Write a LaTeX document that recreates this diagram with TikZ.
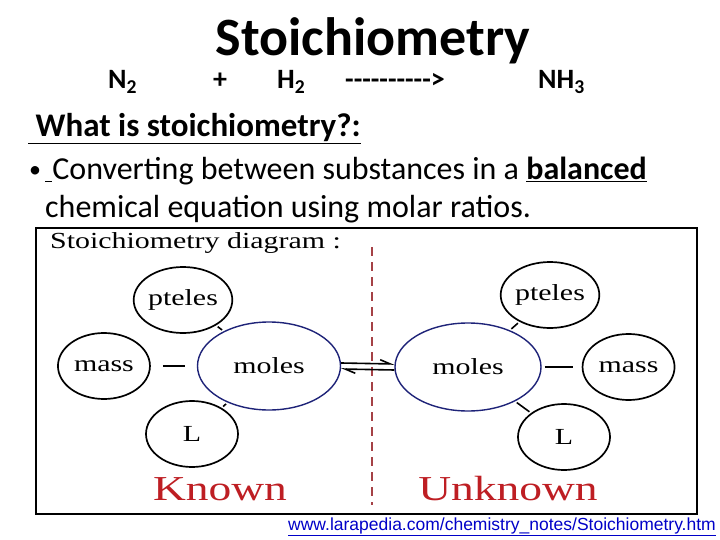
\documentclass[tikz,border=0pt]{standalone}
\usepackage{fontspec}
\setmainfont{Carlito}
\newfontfamily\timesfont{Liberation Serif}
\newfontfamily\arialfont{Liberation Sans}
\usepackage{graphicx}
\usepackage{xcolor}
\usetikzlibrary{shapes,arrows.meta,positioning}
\definecolor{hubblue}{RGB}{30,35,120}
\definecolor{knownred}{RGB}{190,30,35}
\definecolor{splitred}{RGB}{165,65,70}
\definecolor{urlblue}{RGB}{0,0,200}
\newcommand{\wide}[1]{\scalebox{1.3}[1]{#1}}
\newcommand{\hy}{-\kern0pt}

\begin{document}
\begin{tikzpicture}[x=1pt, y=-1pt,
  bubble/.style={ellipse, draw, line width=1.7pt, minimum width=92pt, minimum height=66pt, inner sep=0pt, font=\timesfont\fontsize{23}{26}\selectfont},
  hub/.style={bubble, draw=hubblue, line width=1.4pt, minimum width=143pt, minimum height=88pt},
  link/.style={line width=1.6pt, shorten <=2pt, shorten >=2pt},
  eqline/.style={line width=1.6pt, -{Straight Barb[harpoon, length=10pt, width=8pt, line width=1.6pt]}},
  slide/.style={anchor=base west, inner sep=0pt, font=\fontsize{32}{38}\selectfont},
  formula/.style={anchor=base west, inner sep=0pt, font=\bfseries\fontsize{28}{34}\selectfont},
  side/.style={anchor=base, inner sep=0pt, text=knownred, font=\timesfont\fontsize{35}{40}\selectfont}]
\fill[white] (0,0) rectangle (720,540);
\useasboundingbox (0,0) rectangle (720,540);

% heading and reaction
\node[anchor=base, inner sep=0pt, font=\bfseries\fontsize{54}{60}\selectfont] (title) at (373,56) {Stoichiometry};
\node[formula] (n2) at (108,89) {N\textsubscript{2}};
\node[formula] (plus) at (213,89) {+};
\node[formula] (h2) at (277,89) {H\textsubscript{2}};
\node[formula] (yields) at (345,89) {\hy\hy\hy\hy\hy\hy\hy\hy\hy\hy>};
\node[formula] (nh3) at (538,89) {NH\textsubscript{3}};

% question and bullet
\node[slide, font=\bfseries\fontsize{33}{38}\selectfont] (question) at (28,137) {\underline{\ What is stoichiometry?:}};
\node[slide, font=\fontsize{24}{28}\selectfont] (dot) at (29,178) {\textbullet};
\node[slide] (line1) at (45,180) {\underline{\ }Converting between substances in a \underline{\textbf{balanced}}};
\node[slide] (line2) at (45,218) {chemical equation using molar ratios.};

% diagram frame
\draw[line width=1.4pt] (36,228) rectangle (697,514);
\node[anchor=base west, inner sep=0pt, font=\timesfont\fontsize{23}{26}\selectfont] (caption) at (50,248) {\wide{Stoichiometry diagram :}};
\draw[splitred, line width=2.4pt, dash pattern=on 9pt off 6pt] (372,247) -- (372,505);

% known side
\node[hub] (molesL) at (269,366) {\wide{moles}};
\node[bubble, left=46pt of molesL] (massL) {\wide{mass}};
\node[bubble] (ptL) at (183,300) {\wide{pteles}};
\node[bubble] (volL) at (192,434) {\wide{L}};
\draw[link] (ptL) -- (molesL);
\draw[link, shorten <=12pt, shorten >=12pt] (massL) -- (molesL);
\draw[link] (volL) -- (molesL);
\node[side] (known) at (220,500) {\wide{Known}};

% unknown side
\node[hub, minimum width=146pt] (molesR) at (468,367) {\wide{moles}};
\node[bubble, right=40pt of molesR] (massR) {\wide{mass}};
\node[bubble] (ptR) at (550,295) {\wide{pteles}};
\node[bubble] (volR) at (564,437) {\wide{L}};
\draw[link] (ptR) -- (molesR);
\draw[link, shorten <=3pt, shorten >=9pt] (molesR) -- (massR);
\draw[link] (volR) -- (molesR);
\node[side] (unknown) at (508,500) {\wide{Unknown}};

% two-way conversion
\draw[eqline] ([yshift=3pt]molesL.east) -- ([yshift=3pt]molesR.west);
\draw[eqline] ([yshift=-3pt]molesR.west) -- ([yshift=-3pt]molesL.east);

% source
\node[anchor=base west, inner sep=0pt, text=urlblue, font=\arialfont\fontsize{17.5}{20}\selectfont] (url) at (288,530) {\underline{www.larapedia.com/chemistry\_notes/Stoichiometry.htm}};
\end{tikzpicture}
\end{document}
